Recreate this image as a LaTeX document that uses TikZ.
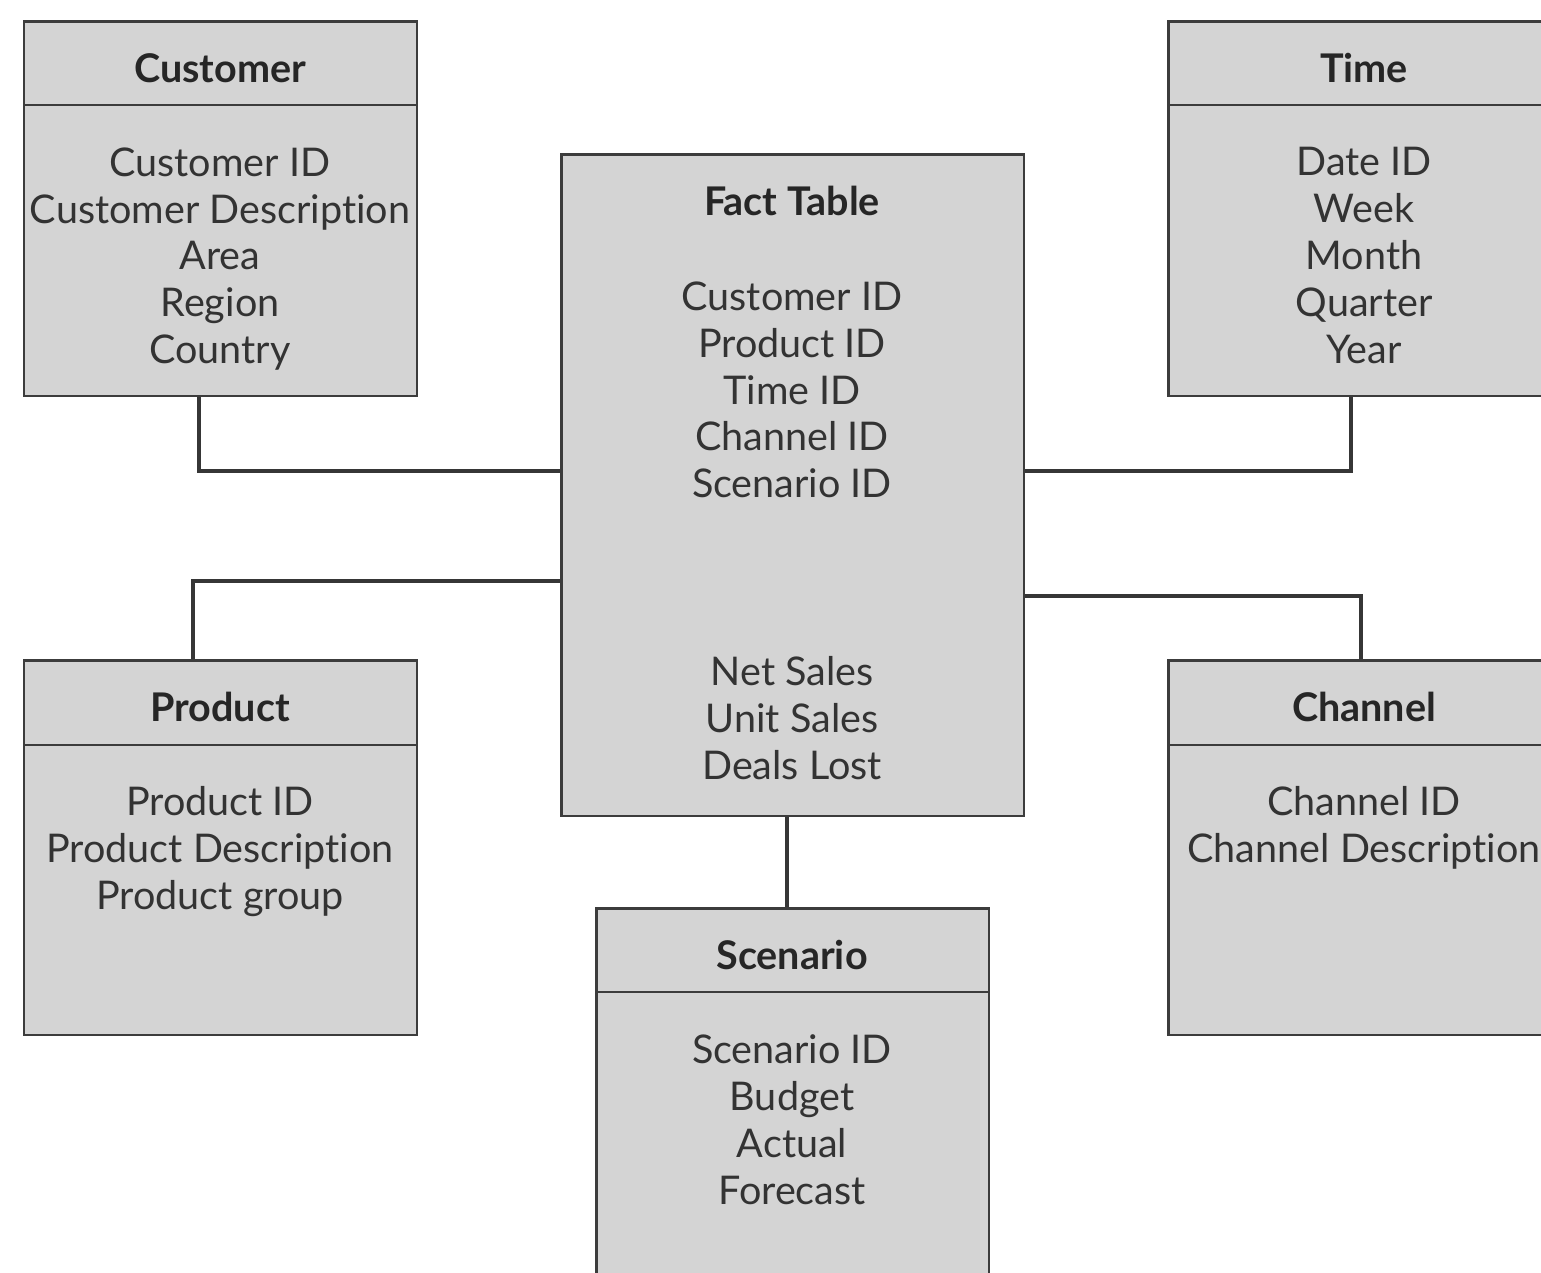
\documentclass[tikz,border=0pt]{standalone}
\usepackage{fontspec}
\setmainfont[Ligatures={NoCommon}]{Lato}
\definecolor{boxfill}{HTML}{D4D4D4}
\definecolor{boxline}{HTML}{3C3C3C}
\begin{document}
\begin{tikzpicture}[x=0.02cm,y=-0.02cm,
  box/.style={draw=boxline, fill=boxfill, line width=0.05cm, anchor=north west, inner sep=0pt},
  rule/.style={draw=boxline, line width=0.05cm},
  conn/.style={draw=boxline!90!black, line width=0.07cm},
  title/.style={font=\fontsize{22.5}{26.75}\selectfont\bfseries, text=black!85, anchor=center, inner sep=0pt},
  body/.style={font=\fontsize{22.5}{26.75}\selectfont, text=black!80, align=center, anchor=north, inner sep=0pt}]
\useasboundingbox (0,0) rectangle (1541,1272);
\clip (0,0) rectangle (1541,1272);
\fill[white] (0,0) rectangle (1541,1272);
% boxes
\node[box, minimum width=7.86cm, minimum height=7.5cm] (cust) at (23,20) {};
\node[box, minimum width=7.86cm, minimum height=7.5cm] (time) at (1167,20) {};
\node[box, minimum width=9.26cm, minimum height=13.24cm] (fact) at (560,153) {};
\node[box, minimum width=7.86cm, minimum height=7.5cm] (prod) at (23,659) {};
\node[box, minimum width=7.86cm, minimum height=7.5cm] (chan) at (1167,659) {};
\node[box, minimum width=7.86cm, minimum height=8.6cm] (scen) at (595,907) {};
% header rules
\draw[rule] (cust.west |- 0,105) -- (cust.east |- 0,105);
\draw[rule] (time.west |- 0,105) -- (time.east |- 0,105);
\draw[rule] (prod.west |- 0,745) -- (prod.east |- 0,745);
\draw[rule] (chan.west |- 0,745) -- (chan.east |- 0,745);
\draw[rule] (scen.west |- 0,992) -- (scen.east |- 0,992);
% titles
\node[title] (custT) at (220,68) {Customer};
\node[title] (timeT) at (1364,68) {Time};
\node[title] (factT) at (792,201) {Fact Table};
\node[title] (prodT) at (220,707) {Product};
\node[title] (chanT) at (1364,707) {Channel};
\node[title] (scenT) at (792,955) {Scenario};
% bodies
\node[body] (custB) at (220,147) {Customer ID\\Customer Description\\Area\\Region\\Country};
\node[body] (timeB) at (1364,147) {Date ID\\Week\\Month\\Quarter\\Year};
\node[body] (factB1) at (792,281) {Customer ID\\Product ID\\Time ID\\Channel ID\\Scenario ID};
\node[body] (factB2) at (792,656) {Net Sales\\Unit Sales\\Deals Lost};
\node[body] (prodB) at (220,786) {Product ID\\Product Description\\Product group};
\node[body] (chanB) at (1364,786) {Channel ID\\Channel Description};
\node[body] (scenB) at (792,1034) {Scenario ID\\Budget\\Actual\\Forecast};
% connectors
\draw[conn] (199,0 |- cust.south) -- (199,471) -- (fact.west |- 0,471);
\draw[conn] (1351,0 |- time.south) -- (1351,471) -- (fact.east |- 0,471);
\draw[conn] (193,0 |- prod.north) -- (193,581) -- (fact.west |- 0,581);
\draw[conn] (1361,0 |- chan.north) -- (1361,596) -- (fact.east |- 0,596);
\draw[conn] (787,0 |- fact.south) -- (787,0 |- scen.north);
\end{tikzpicture}
\end{document}
